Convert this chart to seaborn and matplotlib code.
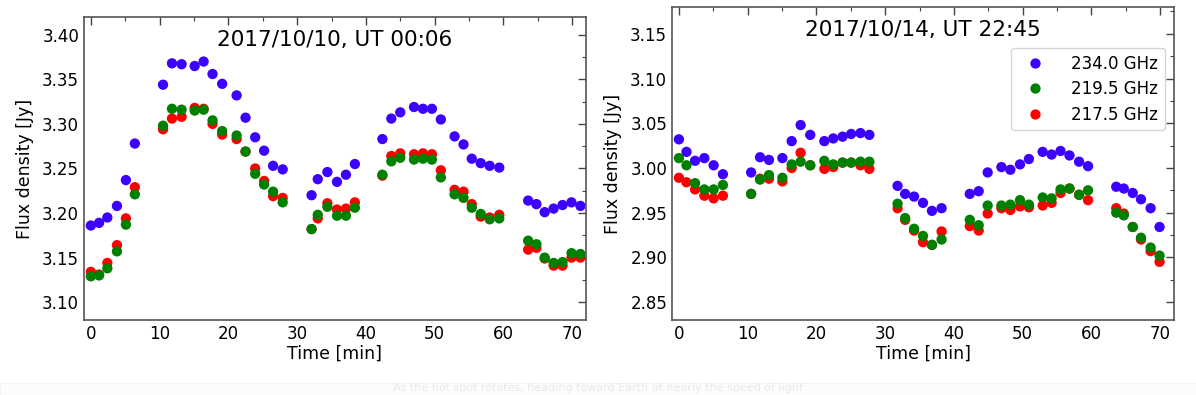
import numpy as np
import pandas as pd
import matplotlib
matplotlib.use('Agg')
import matplotlib.pyplot as plt
from matplotlib.patches import Rectangle
from matplotlib.ticker import MultipleLocator
import seaborn as sns

# ---- data ----
freqs = ['234.0 GHz', '219.5 GHz', '217.5 GHz']
colors = {'234.0 GHz': '#3c00ff', '219.5 GHz': '#008000', '217.5 GHz': '#ff0000'}

time_1010 = [0.0, 1.2, 2.4, 3.8, 5.1, 6.4,
             10.5, 11.8, 13.2, 15.1, 16.4, 17.7, 19.1, 21.2, 22.5, 23.9, 25.2, 26.5, 27.9,
             32.1, 33.0, 34.4, 35.8, 37.1, 38.4,
             42.4, 43.7, 45.0, 47.0, 48.3, 49.6, 50.9, 52.9, 54.2, 55.4, 56.7, 58.0, 59.4,
             63.6, 64.8, 66.0, 67.3, 68.6, 69.9, 71.2]
f234_1010 = [3.186, 3.189, 3.195, 3.208, 3.237, 3.278,
             3.344, 3.368, 3.367, 3.365, 3.370, 3.356, 3.345, 3.332, 3.307, 3.285, 3.270, 3.253, 3.249,
             3.220, 3.238, 3.246, 3.235, 3.243, 3.255,
             3.283, 3.306, 3.313, 3.319, 3.317, 3.317, 3.305, 3.286, 3.277, 3.261, 3.256, 3.253, 3.251,
             3.214, 3.210, 3.201, 3.205, 3.209, 3.212, 3.208]
f2195_1010 = [3.129, 3.130, 3.138, 3.157, 3.187, 3.221,
              3.298, 3.317, 3.316, 3.315, 3.316, 3.304, 3.292, 3.287, 3.269, 3.244, 3.232, 3.224, 3.212,
              3.182, 3.198, 3.207, 3.197, 3.197, 3.206,
              3.243, 3.258, 3.262, 3.260, 3.261, 3.260, 3.240, 3.221, 3.217, 3.206, 3.199, 3.193, 3.194,
              3.169, 3.165, 3.150, 3.144, 3.145, 3.155, 3.154]
f2175_1010 = [3.134, 3.131, 3.144, 3.164, 3.194, 3.229,
              3.294, 3.306, 3.308, 3.318, 3.317, 3.300, 3.288, 3.283, 3.269, 3.250, 3.236, 3.219, 3.217,
              3.182, 3.194, 3.211, 3.204, 3.205, 3.212,
              3.242, 3.264, 3.267, 3.266, 3.267, 3.266, 3.248, 3.226, 3.224, 3.210, 3.196, 3.195, 3.198,
              3.159, 3.161, 3.149, 3.141, 3.141, 3.150, 3.150]

time_1014 = [0.0, 1.1, 2.35, 3.7, 5.05, 6.4,
             10.5, 11.8, 13.1, 15.05, 16.4, 17.7, 19.1, 21.15, 22.45, 23.8, 25.05, 26.4, 27.7,
             31.8, 32.9, 34.2, 35.5, 36.8, 38.2,
             42.3, 43.6, 44.9, 46.9, 48.2, 49.6, 50.9, 52.9, 54.2, 55.5, 56.8, 58.2, 59.5,
             63.6, 64.7, 66.0, 67.2, 68.6, 69.9]
f234_1014 = [3.032, 3.018, 3.008, 3.011, 3.003, 2.993,
             2.995, 3.012, 3.009, 3.011, 3.030, 3.048, 3.037, 3.030, 3.033, 3.035, 3.038, 3.039, 3.037,
             2.980, 2.971, 2.968, 2.961, 2.952, 2.955,
             2.971, 2.974, 2.995, 3.001, 2.998, 3.004, 3.010, 3.018, 3.015, 3.019, 3.014, 3.007, 3.002,
             2.979, 2.977, 2.972, 2.965, 2.955, 2.934]
f2195_1014 = [3.011, 3.003, 2.983, 2.976, 2.976, 2.981,
              2.971, 2.987, 2.992, 2.989, 3.004, 3.007, 3.003, 3.008, 3.004, 3.006, 3.006, 3.007, 3.007,
              2.960, 2.944, 2.932, 2.924, 2.914, 2.920,
              2.942, 2.936, 2.958, 2.958, 2.959, 2.964, 2.959, 2.967, 2.966, 2.976, 2.977, 2.970, 2.975,
              2.950, 2.947, 2.934, 2.922, 2.911, 2.902]
f2175_1014 = [2.989, 2.984, 2.976, 2.969, 2.966, 2.969,
              2.971, 2.988, 2.988, 2.985, 3.000, 3.017, 3.003, 2.999, 3.001, 3.006, 3.006, 3.003, 2.999,
              2.955, 2.942, 2.930, 2.917, 2.914, 2.929,
              2.935, 2.930, 2.949, 2.955, 2.953, 2.957, 2.956, 2.958, 2.961, 2.972, 2.977, 2.970, 2.964,
              2.955, 2.949, 2.934, 2.920, 2.907, 2.895]


def make_frame(t, f234, f2195, f2175):
    # drawing order: blue, red, green (green ends on top)
    parts = []
    for name, vals in [('234.0 GHz', f234), ('217.5 GHz', f2175), ('219.5 GHz', f2195)]:
        parts.append(pd.DataFrame({'time': t, 'flux': vals, 'freq': name}))
    return pd.concat(parts, ignore_index=True)


df_1010 = make_frame(time_1010, f234_1010, f2195_1010, f2175_1010)
df_1014 = make_frame(time_1014, f234_1014, f2195_1014, f2175_1014)

sns.set_style('white')
plt.rcParams['font.family'] = ['DejaVu Sans']
plt.rcParams['text.color'] = 'black'
plt.rcParams['axes.labelcolor'] = 'black'
plt.rcParams['xtick.color'] = 'black'
plt.rcParams['ytick.color'] = 'black'

fig = plt.figure(figsize=(11.96, 3.95), dpi=100)
ax1 = fig.add_axes([0.0702, 0.1899, 0.4197, 0.7671])
ax2 = fig.add_axes([0.5619, 0.1899, 0.4197, 0.7924])


def style_axis(ax, ylim, title, legend):
    ax.set_xlim(-1, 72)
    ax.set_ylim(*ylim)
    ax.xaxis.set_major_locator(MultipleLocator(10))
    ax.xaxis.set_minor_locator(MultipleLocator(5))
    ax.yaxis.set_major_locator(MultipleLocator(0.05))
    ax.yaxis.set_minor_locator(MultipleLocator(0.025))
    ax.yaxis.set_major_formatter(matplotlib.ticker.FormatStrFormatter('%.2f'))
    ax.tick_params(which='both', direction='in', top=True, right=True,
                   color='#444444', labelcolor='black', labelsize=12)
    ax.tick_params(which='major', length=6, width=1)
    ax.tick_params(which='minor', length=3, width=0.8)
    for sp in ax.spines.values():
        sp.set_color('#555555')
        sp.set_linewidth(1.2)
    ax.set_xlabel('Time [min]', fontsize=12.5, labelpad=1)
    ax.set_ylabel('Flux density [Jy]', fontsize=12.5, labelpad=6)
    ax.text(0.5, 0.925, title, transform=ax.transAxes, ha='center', va='center', fontsize=15.5)
    if legend:
        handles, labels = ax.get_legend_handles_labels()
        order = [labels.index(f) for f in freqs]
        ax.legend([handles[i] for i in order], [labels[i] for i in order],
                  loc='upper right', bbox_to_anchor=(0.982, 0.869), borderaxespad=0,
                  fontsize=12, handletextpad=1.2, labelspacing=0.45, borderpad=0.4)
    else:
        leg = ax.get_legend()
        if leg is not None:
            leg.remove()


sns.scatterplot(data=df_1010, x='time', y='flux', hue='freq', palette=colors,
                s=55, linewidth=0, alpha=1, ax=ax1)
sns.scatterplot(data=df_1014, x='time', y='flux', hue='freq', palette=colors,
                s=55, linewidth=0, alpha=1, ax=ax2)

style_axis(ax1, (3.08, 3.42), '2017/10/10, UT 00:06', legend=False)
style_axis(ax2, (2.83, 3.18), '2017/10/14, UT 22:45', legend=True)

# faint caption strip at the bottom of the screenshot
fig.patches.append(Rectangle((0.0, 0.0), 1.0, 0.03, transform=fig.transFigure,
                             facecolor='#fdfdfd', edgecolor='#f3f3f3', linewidth=0.8))
fig.text(0.5, 0.004, 'As the hot spot rotates, heading toward Earth at nearly the speed of light',
         ha='center', va='bottom', fontsize=8, color='#e8e8e8')

fig.savefig('out.png', dpi=100)
